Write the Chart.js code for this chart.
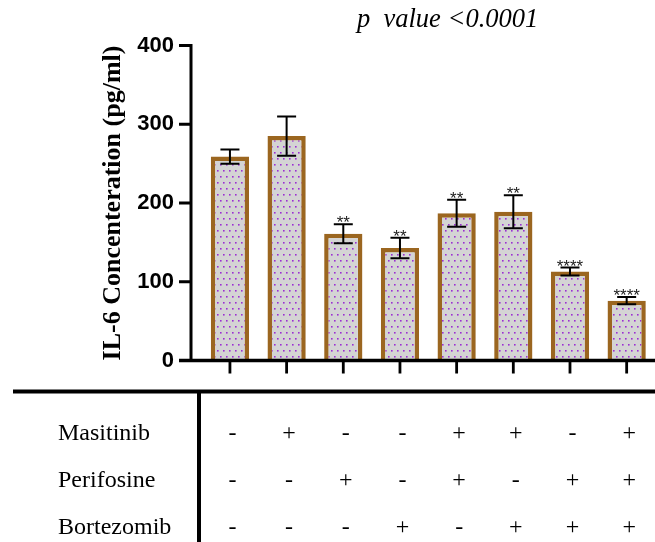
<!DOCTYPE html>
<html>
<head>
<meta charset="utf-8">
<script src="https://cdn.jsdelivr.net/npm/chart.js@4"></script>
<style>
  html, body { margin: 0; padding: 0; background: #fff; }
  #wrap { width: 655px; height: 542px; position: relative; }
</style>
</head>
<body>
<div id="wrap"><canvas id="chart"></canvas></div>
<script>
// groups in the order shown, drug combination per column in the table below
const groups = ['Control', 'M', 'P', 'B', 'M+P', 'M+B', 'P+B', 'M+P+B'];
const means = [259, 285, 161, 143, 187, 189, 113, 76];
const sem = [9, 25, 12, 13, 17, 21, 5, 4.5];
const stars = ['', '', '**', '**', '**', '**', '****', '****'];
const masitinib = ['-', '+', '-', '-', '+', '+', '-', '+'];
const perifosine = ['-', '-', '+', '-', '+', '-', '+', '+'];
const bortezomib = ['-', '-', '-', '+', '-', '+', '+', '+'];
const yTicks = [0, 100, 200, 300, 400];

const ctx = document.getElementById('chart').getContext('2d');

// grey fill with small purple dots, like the prism pattern
function dotPattern() {
  const c = document.createElement('canvas');
  c.width = 6; c.height = 12;
  const g = c.getContext('2d');
  g.fillStyle = '#d4d4d4';
  g.fillRect(0, 0, 6, 12);
  g.fillStyle = '#9b2fd2';
  g.fillRect(1, 2, 1.6, 1.6);
  g.fillRect(4, 8, 1.6, 1.6);
  return ctx.createPattern(c, 'repeat');
}

const extras = {
  id: 'extras',
  afterDatasetsDraw(chart) {
    const c = chart.ctx;
    const y = chart.scales.y;
    const bars = chart.getDatasetMeta(0).data;
    c.save();
    c.strokeStyle = '#000';
    c.lineWidth = 2;
    bars.forEach((bar, i) => {
      const top = y.getPixelForValue(means[i] + sem[i]);
      const bot = y.getPixelForValue(means[i] - sem[i]);
      c.beginPath();
      c.moveTo(bar.x, top); c.lineTo(bar.x, bot);
      c.moveTo(bar.x - 9.5, top); c.lineTo(bar.x + 9.5, top);
      c.moveTo(bar.x - 9.5, bot); c.lineTo(bar.x + 9.5, bot);
      c.stroke();
      if (stars[i]) {
        c.fillStyle = '#222';
        c.font = '17px "Liberation Sans", Arial, sans-serif';
        c.textAlign = 'center';
        c.textBaseline = 'alphabetic';
        c.fillText(stars[i], bar.x, top + 4);
      }
    });
    c.restore();
  },
  afterDraw(chart) {
    const c = chart.ctx;
    const y = chart.scales.y;
    const bars = chart.getDatasetMeta(0).data;
    const axisX = 191;
    const y0 = y.getPixelForValue(0);
    c.save();
    c.strokeStyle = '#000';
    c.lineCap = 'butt';
    // y axis line and ticks
    c.lineWidth = 3;
    c.beginPath();
    c.moveTo(axisX, y.getPixelForValue(400) - 1.5);
    c.lineTo(axisX, y0);
    yTicks.forEach(v => {
      const py = y.getPixelForValue(v);
      c.moveTo(179, py); c.lineTo(axisX, py);
    });
    c.stroke();
    // x axis line and ticks
    c.lineWidth = 3.3;
    c.beginPath();
    c.moveTo(179, y0); c.lineTo(655, y0);
    c.stroke();
    c.lineWidth = 2.8;
    c.beginPath();
    bars.forEach(bar => { c.moveTo(bar.x, y0); c.lineTo(bar.x, y0 + 13); });
    c.stroke();

    // table
    c.lineWidth = 4;
    c.beginPath();
    c.moveTo(13, 391.5); c.lineTo(655, 391.5);
    c.moveTo(199, 391.5); c.lineTo(199, 542);
    c.stroke();

    c.fillStyle = '#000';
    c.font = '24px "Liberation Serif", "Times New Roman", serif';
    c.textBaseline = 'alphabetic';
    const rows = [['Masitinib', masitinib, 440], ['Perifosine', perifosine, 487], ['Bortezomib', bortezomib, 534]];
    rows.forEach(([name, signs, base]) => {
      c.textAlign = 'left';
      c.fillText(name, 58, base);
      c.textAlign = 'center';
      signs.forEach((s, i) => c.fillText(s, bars[i].x + 2.5, base));
    });

    // p value note
    c.font = 'italic 26.5px "Liberation Serif", "Times New Roman", serif';
    c.textAlign = 'left';
    c.fillText('p  value <0.0001', 357, 27);
    c.restore();
  }
};

new Chart(ctx, {
  type: 'bar',
  data: {
    labels: groups,
    datasets: [{
      data: means,
      backgroundColor: dotPattern(),
      borderColor: '#9b6620',
      borderWidth: 4.5,
      borderSkipped: 'start',
      barPercentage: 0.675,
      categoryPercentage: 1,
    }],
  },
  options: {
    responsive: true,
    maintainAspectRatio: false,
    animation: false,
    layout: { padding: { left: 97.6, top: 45.5, right: 0, bottom: 181.5 } },
    plugins: { legend: { display: false }, tooltip: { enabled: false } },
    scales: {
      x: { display: false },
      y: {
        min: 0,
        max: 400,
        afterFit(scale) { scale.width = 104; },
        afterBuildTicks(scale) { scale.ticks = yTicks.map(v => ({ value: v })); },
        grid: { display: false, drawTicks: false },
        border: { display: false },
        ticks: {
          padding: 27.6,
          color: '#000',
          font: { family: '"Liberation Sans", Arial, sans-serif', size: 22, weight: 'bold' },
        },
        title: {
          display: true,
          text: 'IL-6 Concenteration (pg/ml)',
          color: '#000',
          padding: 0,
          font: { family: '"Liberation Serif", "Times New Roman", serif', size: 26, weight: 'bold' },
        },
      },
    },
  },
  plugins: [extras],
});
</script>
</body>
</html>
